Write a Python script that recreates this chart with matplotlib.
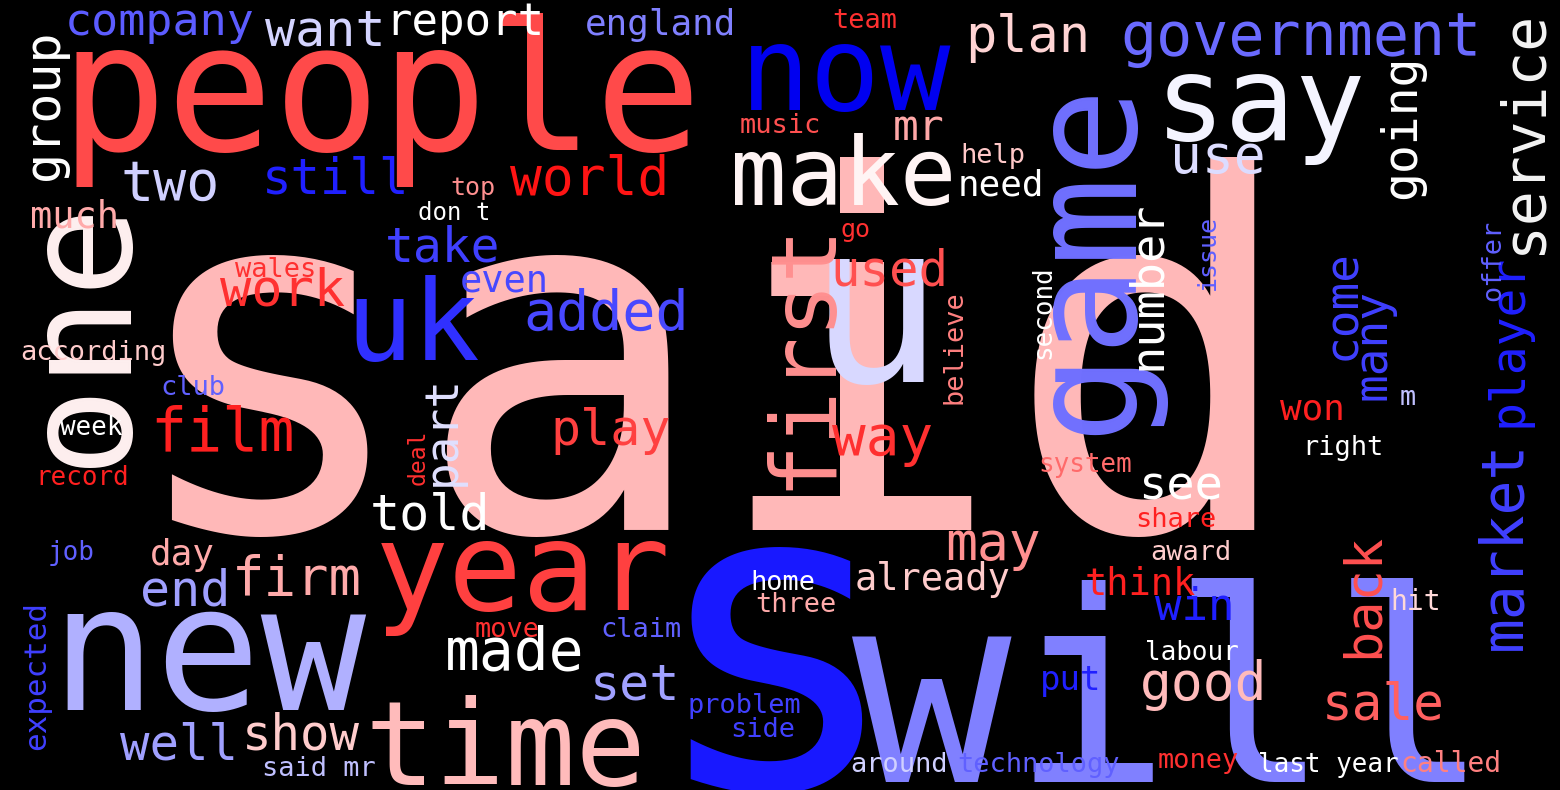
import matplotlib
matplotlib.use("Agg")
import matplotlib.pyplot as plt

# word cloud data: word, font size in px (word weight), colour, vertical?
words = ["said", "people", "now", "say", "make", "company", "want", "report", "england", "team",
         "government", "plan", "music", "mr", "use", "help", "need", "two", "still", "world",
         "top", "much", "don t", "go", "take", "used", "wales", "work", "even", "added",
         "uk", "u", "according", "club", "week", "film", "play", "way", "won", "right",
         "system", "record", "see", "told", "share", "job", "day", "award", "year", "may",
         "end", "firm", "already", "think", "win", "hit", "home", "three", "new", "made",
         "set", "claim", "move", "labour", "good", "put", "sale", "time", "well", "show",
         "problem", "side", "said mr", "around", "technology", "money", "last year", "called", "s", "will",
         "m",
         "one", "group", "game", "first", "going", "service", "number", "part", "come", "many",
         "player", "market", "back", "issue", "offer", "second", "believe", "deal", "expected"]
sizes = [490, 178, 117, 117, 94, 45, 50, 44, 36, 27,
         60, 52, 27, 43, 53, 27, 36, 55, 49, 53,
         25, 37, 24, 25, 48, 49, 27, 52, 37, 55,
         112, 225, 27, 27, 26, 60, 50, 56, 36, 27,
         26, 26, 47, 50, 27, 26, 36, 27, 123, 53,
         50, 54, 37, 37, 44, 28, 27, 27, 175, 58,
         50, 27, 27, 26, 53, 34, 51, 117, 49, 49,
         27, 27, 27, 27, 27, 27, 26, 28, 430, 265,
         27,
         150, 50, 148, 90, 48, 58, 47, 46, 46, 46,
         48, 58, 52, 25, 27, 26, 27, 23, 31]
colors = ["#ffb8b8", "#ff4a4a", "#0000f0", "#f4f4ff", "#fff4f4", "#5c5cff", "#d4d4ff", "#ffffff", "#8080ff", "#ff3030",
          "#6a6aff", "#ffd4d4", "#ff5050", "#ffa8a8", "#dcdcff", "#ffc8c8", "#ffffff", "#d0d0ff", "#2020ff", "#ff1414",
          "#ff9090", "#ffaaaa", "#ffffff", "#ff3030", "#4040ff", "#ff5050", "#ff3030", "#ff3030", "#4848ff", "#4848ff",
          "#3030ff", "#d8d8ff", "#ffcccc", "#6060ff", "#ffffff", "#ff2020", "#ff4040", "#ff3030", "#ff2020", "#ffffff",
          "#ff6a6a", "#ff2020", "#ffffff", "#ffffff", "#ff2020", "#6060ff", "#ffaaaa", "#ffcccc", "#ff4040", "#ff9090",
          "#a0a0ff", "#ffaaaa", "#ffcccc", "#ff2020", "#2020ff", "#ffd8d8", "#ffffff", "#ffaaaa", "#b0b0ff", "#ffffff",
          "#a0a0ff", "#6060ff", "#ff3030", "#ffffff", "#ffbbbb", "#2020ff", "#ff6060", "#ffbbbb", "#a0a0ff", "#ffcccc",
          "#4040ff", "#4040ff", "#c0c0ff", "#d0d0ff", "#6060ff", "#ff3030", "#ffffff", "#ff8080", "#1818ff", "#8080ff",
          "#c0c0ff",
          "#fff0f0", "#ffffff", "#7070ff", "#ff9090", "#ffffff", "#f4f4f4", "#ffffff", "#e0e0ff", "#4040ff", "#4040ff",
          "#2020ff", "#4040ff", "#ff5050", "#6060ff", "#6060ff", "#ffffff", "#ff8080", "#ff3030", "#4040ff"]
n_horizontal = 81

# layout: horizontal words -> (left x, baseline y); vertical words -> (baseline x, centre y)
layout = [(120, 530), (60, 150), (740, 110), (1155, 140), (730, 205), (65, 35), (265, 45), (385, 35), (585, 35), (832, 28),
          (1120, 55), (965, 52), (740, 133), (893, 140), (1170, 173), (960, 163), (958, 195), (120, 200), (262, 193), (510, 195),
          (450, 195), (30, 228), (418, 220), (840, 237), (385, 262), (830, 285), (235, 277), (220, 305), (460, 292), (523, 330),
          (345, 360), (808, 382), (20, 360), (160, 395), (60, 435), (150, 450), (550, 445), (832, 455), (1280, 420), (1302, 455),
          (1038, 472), (35, 485), (1138, 500), (370, 530), (1135, 527), (48, 560), (150, 565), (1150, 560), (375, 610), (945, 560),
          (140, 605), (232, 595), (855, 590), (1085, 595), (1155, 620), (1390, 610), (750, 590), (755, 612), (50, 710), (445, 670),
          (590, 700), (600, 637), (475, 637), (1145, 660), (1140, 700), (1040, 690), (1322, 720), (365, 785), (120, 760), (242, 750),
          (688, 713), (730, 737), (262, 776), (850, 772), (957, 772), (1158, 768), (1258, 772), (1400, 772), (645, 788), (852, 782),
          (1400, 405),
          (122, 332), (58, 105), (1128, 257), (828, 355), (1415, 127), (1540, 132), (1160, 285), (455, 430), (1355, 305), (1385, 345),
          (1522, 340), (1520, 545), (1378, 595), (1215, 252), (1500, 260), (1050, 312), (962, 347), (425, 457), (45, 675)]

fig = plt.figure(figsize=(15.6, 7.9), dpi=100, facecolor="black")
ax = fig.add_axes([0, 0, 1, 1])
ax.set_facecolor("black")
ax.set_xlim(0, 1560)
ax.set_ylim(790, 0)
ax.axis("off")

for i, word in enumerate(words):
    x, y = layout[i]
    fs = sizes[i] * 72 / 100
    z = 1000 - sizes[i]  # smaller words drawn on top
    if i < n_horizontal:
        ax.text(x, y, word, fontsize=fs, color=colors[i], family="DejaVu Sans Mono",
                ha="left", va="baseline", zorder=z)
    else:
        ax.text(x, y, word, fontsize=fs, color=colors[i], family="DejaVu Sans Mono",
                ha="center", va="baseline", rotation=90, rotation_mode="anchor", zorder=z)

fig.savefig("out.png", dpi=100, facecolor="black")
